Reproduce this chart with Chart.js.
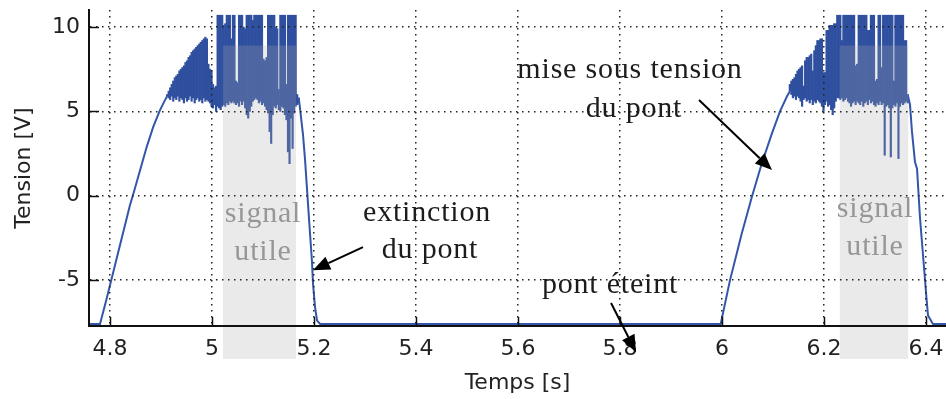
<!DOCTYPE html>
<html>
<head>
<meta charset="utf-8">
<script src="https://cdn.jsdelivr.net/npm/chart.js@4.4.0/dist/chart.umd.min.js"></script>
<style>
  html, body { margin: 0; padding: 0; background: #fff; }
  #wrap { width: 946px; height: 399px; }
</style>
</head>
<body>
<div id="wrap"><canvas id="scope" width="946" height="399"></canvas></div>
<script>
// axis ranges (s, V)
const timeRange = [4.7588, 6.4392];
const voltRange = [-7.72, 11.01];

// first switch-on: bridge off, then the ramp up
const rise1Time = [4.755, 4.7804, 4.7922, 4.804, 4.8157, 4.8275, 4.8392, 4.8451, 4.8588, 4.872, 4.8849, 4.898, 4.9078];
const rise1Volt = [-7.6, -7.6, -6.24, -4.82, -3.4, -1.97, -0.55, 0.04, 1.5, 2.9, 4.1, 5.08, 5.67];

// oscillating part: min and max of the signal over each step
const burstStep = 0.003;
const burst1Start = 4.912;
const burst1Low = [
  5.9, 5.8, 5.7, 5.9, 5.6, 5.8, 5.7, 5.9, 5.6, 5.8,
  5.7, 5.5, 5.8, 5.6, 5.7, 5.9, 5.6, 5.8, 5.5, 5.7,
  5.8, 5.6, 5.7, 5.5, 5.8, 5.6, 5.7, 5.6, 5.5, 5.3,
  5.2, 5.4, 5.0, 5.3, 5.2, 5.1, 5.3, 5.4, 5.3, 5.5,
  5.4, 5.6, 5.5, 5.6, 5.5, 5.4, 5.5, 5.3, 5.6, 5.4,
  5.6, 5.2, 4.8, 4.6, 5.0, 5.3, 5.6, 5.7, 5.8, 5.7,
  5.5, 5.6, 5.4, 5.5, 5.3, 5.1, 4.9, 3.8, 3.1, 4.8,
  5.3, 5.2, 5.4, 5.1, 5.0, 5.3, 5.2, 4.8, 4.5, 2.6,
  1.9, 4.6, 2.8, 4.9, 5.3, 5.4, 5.5
];
const burst1High = [
  6.0, 6.2, 6.4, 6.6, 6.8, 7.0, 7.1, 7.2, 7.4, 7.5,
  7.6, 7.7, 7.9, 8.0, 8.2, 8.3, 8.5, 8.6, 8.7, 8.8,
  8.9, 9.0, 9.1, 9.2, 9.3, 9.4, 9.3, 7.8, 7.5, 7.4,
  6.6, 6.4, 6.5, 10.7, 10.7, 10.7, 10.7, 10.1, 10.2, 10.7,
  10.7, 10.7, 9.3, 10.7, 10.7, 6.8, 6.7, 10.7, 10.7, 10.7,
  10.0, 9.9, 10.7, 10.7, 10.7, 10.7, 10.4, 10.7, 10.7, 10.7,
  10.7, 10.7, 10.7, 8.1, 8.0, 8.2, 10.7, 10.7, 10.7, 10.7,
  10.7, 10.0, 9.9, 6.3, 10.7, 10.7, 10.7, 10.7, 6.6, 10.7,
  10.7, 10.7, 10.7, 10.7, 10.7, 6.0, 5.8
];

// switch-off and bridge off until the next start
const fall1Time = [5.1725, 5.1785, 5.1825, 5.1865, 5.1905, 5.196, 5.198, 5.202, 5.206, 5.212, 5.9974];
const fall1Volt = [5.2, 3.6, 2.1, 0.3, -1.5, -3.9, -5.2, -6.6, -7.4, -7.6, -7.6];

// second switch-on
const rise2Time = [6.0157, 6.0386, 6.0582, 6.0778, 6.0974, 6.1137, 6.1275];
const rise2Volt = [-5.0, -2.25, -0.1, 1.9, 3.65, 5.0, 5.9];

const burst2Start = 6.133;
const burst2Low = [
  6.2, 6.0, 5.8, 5.9, 5.7, 5.9, 5.8, 5.6, 5.3, 5.7,
  5.8, 5.6, 5.7, 5.5, 5.7, 5.4, 5.6, 5.5, 5.7, 5.6,
  5.5, 5.3, 5.0, 5.4, 5.6, 5.3, 5.4, 5.1, 4.8, 5.2,
  5.6, 5.8, 5.8, 5.7, 5.8, 5.6, 5.7, 5.8, 5.6, 5.5,
  5.3, 5.5, 5.6, 5.4, 5.6, 5.5, 5.4, 5.6, 5.3, 5.5,
  5.6, 5.4, 5.7, 5.5, 5.6, 5.4, 5.3, 5.5, 5.4, 5.6,
  5.4, 5.5, 2.4, 5.3, 5.4, 5.2, 2.3, 5.2, 5.4, 5.3,
  5.5, 2.2, 5.3, 5.5, 5.4, 5.5, 5.6, 5.5
];
const burst2High = [
  6.6, 6.8, 6.9, 7.0, 7.2, 7.4, 7.5, 7.6, 7.7, 6.5,
  8.0, 8.2, 8.2, 8.3, 8.4, 7.4, 8.6, 8.9, 9.2, 9.2,
  9.3, 9.3, 7.3, 7.3, 9.8, 9.8, 10.1, 10.1, 10.1, 10.2,
  10.2, 10.7, 10.7, 10.7, 9.2, 10.7, 10.7, 10.7, 10.7, 10.7,
  10.7, 10.7, 10.7, 7.7, 7.8, 10.7, 10.7, 10.7, 10.7, 10.7,
  10.7, 9.8, 9.8, 10.7, 10.7, 10.7, 6.8, 6.9, 10.7, 10.7,
  7.6, 10.7, 10.7, 10.7, 10.7, 10.7, 10.7, 10.7, 6.8, 10.7,
  10.7, 10.7, 10.7, 10.7, 10.7, 9.2, 9.2, 6.0
];

const fall2Time = [6.3686, 6.3725, 6.3784, 6.3824, 6.3882, 6.3961, 6.4013, 6.4039, 6.4137, 6.445];
const fall2Volt = [5.4, 3.8, 2.0, 1.6, -1.3, -4.25, -6.2, -7.1, -7.6, -7.6];

// "signal utile" windows
const usefulStart = [5.0216, 6.231];
const usefulEnd = [5.1647, 6.365];
const usefulTop = 8.9;

// annotations, anchored in data units
const notes = [
  { lines: ['signal', 'utile'], t: [5.1, 5.1], v: [-1.56, -3.81], color: '#979797' },
  { lines: ['signal', 'utile'], t: [6.3, 6.3], v: [-1.26, -3.52], color: '#979797' },
  { lines: ['extinction', 'du pont'], t: [5.4216, 5.4275], v: [-1.5, -3.69], color: '#1c1c1c' },
  { lines: ['pont éteint'], t: [5.7804], v: [-5.77], color: '#1c1c1c' },
  { lines: ['mise sous tension', 'du pont'], t: [5.8196, 5.8275], v: [6.98, 4.67], color: '#1c1c1c' }
];
const arrows = [
  { from: [5.2961, -3.04], to: [5.198, -4.42] },
  { from: [5.7824, -6.36], to: [5.8314, -9.27] },
  { from: [5.9549, 5.67], to: [6.098, 1.52] }
];

function pairs(ts, vs) {
  return ts.map((t, i) => ({ x: t, y: vs[i] }));
}

// one floating bar [min, max] per step of the oscillation
function envelope(start, low, high) {
  return low.map((v, i) => ({ x: start + i * burstStep, y: [v, high[i]] }));
}

const env1 = envelope(burst1Start, burst1Low, burst1High);
const env2 = envelope(burst2Start, burst2Low, burst2High);
const gap = { x: NaN, y: NaN };
const edge = (bar, k) => ({ x: bar.x, y: bar.y[k] });

// slow parts of the trace, joined to the ends of the bursts
const traceSlow = [
  ...pairs(rise1Time, rise1Volt), edge(env1[0], 0), gap,
  edge(env1[env1.length - 1], 1), ...pairs(fall1Time, fall1Volt), ...pairs(rise2Time, rise2Volt), edge(env2[0], 0), gap,
  edge(env2[env2.length - 1], 1), ...pairs(fall2Time, fall2Volt)
];

function drawArrow(ctx, x0, y0, x1, y1) {
  const a = Math.atan2(y1 - y0, x1 - x0);
  const len = 17, half = 7;
  const bx = x1 - len * Math.cos(a), by = y1 - len * Math.sin(a);
  ctx.beginPath();
  ctx.moveTo(x0, y0);
  ctx.lineTo(bx, by);
  ctx.stroke();
  ctx.beginPath();
  ctx.moveTo(x1, y1);
  ctx.lineTo(bx + half * Math.sin(a), by - half * Math.cos(a));
  ctx.lineTo(bx - half * Math.sin(a), by + half * Math.cos(a));
  ctx.closePath();
  ctx.fill();
}

const decor = {
  id: 'decor',
  afterDatasetsDraw(chart) {
    const { ctx, chartArea, scales: { x, y } } = chart;
    ctx.save();
    ctx.fillStyle = 'rgba(170,170,170,0.25)';
    const top = y.getPixelForValue(usefulTop);
    usefulStart.forEach((s, i) => {
      const x0 = x.getPixelForValue(s);
      const x1 = x.getPixelForValue(usefulEnd[i]);
      ctx.fillRect(x0, top, x1 - x0, chartArea.bottom + 33 - top);
    });
    ctx.restore();
  },
  afterDraw(chart) {
    const { ctx, chartArea, scales: { x, y } } = chart;
    ctx.save();
    // matlab style ticks, pointing inwards
    ctx.strokeStyle = '#111';
    ctx.lineWidth = 1.5;
    x.ticks.forEach(tk => {
      const p = Math.round(x.getPixelForValue(tk.value)) + 0.5;
      ctx.beginPath();
      ctx.moveTo(p, chartArea.bottom);
      ctx.lineTo(p, chartArea.bottom - 9);
      ctx.stroke();
    });
    y.ticks.forEach(tk => {
      const p = Math.round(y.getPixelForValue(tk.value)) + 0.5;
      ctx.beginPath();
      ctx.moveTo(chartArea.left, p);
      ctx.lineTo(chartArea.left + 10, p);
      ctx.stroke();
    });

    ctx.font = '30px "Liberation Serif"';
    ctx.letterSpacing = '0.8px';
    ctx.textAlign = 'center';
    ctx.textBaseline = 'alphabetic';
    notes.forEach(n => {
      ctx.fillStyle = n.color;
      n.lines.forEach((txt, i) => {
        ctx.fillText(txt, x.getPixelForValue(n.t[i]), y.getPixelForValue(n.v[i]));
      });
    });

    ctx.strokeStyle = '#000';
    ctx.fillStyle = '#000';
    ctx.lineWidth = 2;
    arrows.forEach(a => {
      drawArrow(ctx,
        x.getPixelForValue(a.from[0]), y.getPixelForValue(a.from[1]),
        x.getPixelForValue(a.to[0]), y.getPixelForValue(a.to[1]));
    });
    ctx.restore();
  }
};

const axisFont = { family: '"DejaVu Sans"', size: 22 };

new Chart(document.getElementById('scope'), {
  type: 'line',
  data: {
    datasets: [{
      data: traceSlow,
      borderColor: '#3456aa',
      borderWidth: 2,
      pointRadius: 0,
      tension: 0,
      spanGaps: false,
      fill: false
    }, {
      type: 'bar',
      data: [...env1, ...env2],
      backgroundColor: '#2f4f9f',
      borderWidth: 0,
      barPercentage: 1,
      categoryPercentage: 1
    }]
  },
  options: {
    responsive: false,
    animation: false,
    devicePixelRatio: 1,
    layout: { padding: { top: 10, right: 0, bottom: 0, left: 0 } },
    plugins: { legend: { display: false }, tooltip: { enabled: false } },
    scales: {
      x: {
        type: 'linear',
        min: timeRange[0],
        max: timeRange[1],
        offset: false,
        afterFit: s => { s.height = 73; s.paddingLeft = 0; s.paddingRight = 0; },
        grid: { color: '#222', lineWidth: 1.5, drawTicks: false, offset: false, z: 1 },
        border: { color: '#111', width: 2, dash: [1.5, 4.5], z: 2 },
        ticks: {
          stepSize: 0.2,
          includeBounds: false,
          autoSkip: false,
          maxRotation: 0,
          padding: 10,
          color: '#222',
          font: axisFont,
          callback: v => String(Number(v.toFixed(1)))
        },
        title: { display: true, text: 'Temps [s]', color: '#222', font: axisFont, padding: { top: 0, bottom: 3 } }
      },
      y: {
        type: 'linear',
        min: voltRange[0],
        max: voltRange[1],
        afterFit: s => { s.width = 89; s.paddingTop = 0; s.paddingBottom = 0; },
        grid: { color: '#222', lineWidth: 1.5, drawTicks: false, z: 1 },
        border: { color: '#111', width: 2, dash: [1.5, 4.5], z: 2 },
        ticks: {
          stepSize: 5,
          includeBounds: false,
          padding: 9,
          color: '#222',
          font: axisFont
        },
        title: { display: true, text: 'Tension [V]', color: '#222', font: axisFont, padding: { top: 11, bottom: 0 } }
      }
    }
  },
  plugins: [decor]
});
</script>
</body>
</html>
